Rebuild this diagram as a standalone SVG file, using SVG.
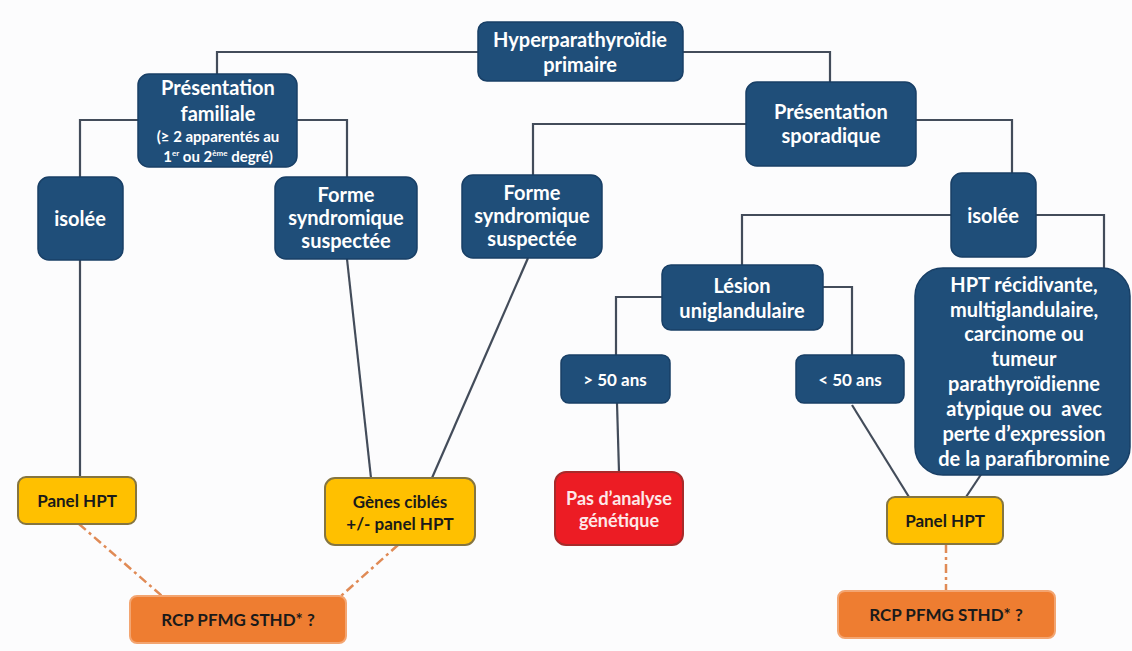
<svg xmlns="http://www.w3.org/2000/svg" width="1132" height="651" viewBox="0 0 1132 651">
<style>
.n{fill:#1f4e79;stroke:#183f66;stroke-width:1.5}
.y{fill:#ffc000;stroke:#857540;stroke-width:2}
.r{fill:#ec1c24;stroke:#a82a2a;stroke-width:2}
.o{fill:#ee7d31;stroke:#f3a571;stroke-width:2}
text{font-family:Lato,"Open Sans","Liberation Sans",sans-serif;font-weight:700;text-anchor:middle}
.w{fill:#ffffff;font-size:20px}
.ws{fill:#ffffff;font-size:15px}
.wm{fill:#ffffff;font-size:17px}
.k{fill:#1a1a1a;font-size:17px}
.c{fill:none;stroke:#434c5a;stroke-width:2.2}
.d{fill:none;stroke:#e08a55;stroke-width:2.5;stroke-dasharray:9 4 3 4}
</style>
<rect width="1132" height="651" fill="#fcfcfd"/>
<g id="connectors">
<polyline class="c" points="478,52 217,52 217,74"/>
<polyline class="c" points="683,52 830,52 830,82"/>
<polyline class="c" points="138,120 80,120 80,177"/>
<polyline class="c" points="297,120 347,120 347,177"/>
<polyline class="c" points="746,124 533,124 533,175"/>
<polyline class="c" points="916,120 1012,120 1012,173"/>
<polyline class="c" points="951,215 742,215 742,265"/>
<polyline class="c" points="1036,215 1104,215 1104,268"/>
<polyline class="c" points="662,297 616,297 616,355"/>
<polyline class="c" points="823,287 852,287 852,355"/>
<line class="c" x1="80" y1="260" x2="80" y2="477"/>
<line class="c" x1="347" y1="259" x2="371" y2="478"/>
<line class="c" x1="528" y1="258" x2="432" y2="478"/>
<line class="c" x1="617" y1="403" x2="619" y2="472"/>
<line class="c" x1="852" y1="405" x2="909" y2="497"/>
<line class="c" x1="982" y1="473" x2="966" y2="497"/>
<line class="d" x1="79" y1="524" x2="162" y2="596"/>
<line class="d" x1="398" y1="545" x2="341" y2="596"/>
<line class="d" x1="946" y1="544" x2="946" y2="591"/>
</g>
<g id="hpt-primaire">
<rect class="n" x="478" y="22" width="205" height="59" rx="9"/>
<text class="w" x="580" y="47">Hyperparathyroïdie</text>
<text class="w" x="580" y="72">primaire</text>
</g>
<g id="familiale">
<rect class="n" x="138" y="74" width="159" height="93" rx="11"/>
<text class="w" x="218" y="95">Présentation</text>
<text class="w" x="218" y="121">familiale</text>
<text class="ws" x="218" y="142">(≥ 2 apparentés au</text>
<text class="ws" x="218" y="162">1<tspan font-size="8" dy="-6">er</tspan><tspan dy="6"> ou 2</tspan><tspan font-size="8" dy="-6">ème</tspan><tspan dy="6"> degré)</tspan></text>
</g>
<g id="sporadique">
<rect class="n" x="746" y="82" width="170" height="84" rx="11"/>
<text class="w" x="831" y="119">Présentation</text>
<text class="w" x="831" y="143">sporadique</text>
</g>
<g id="isolee-fam">
<rect class="n" x="38" y="177" width="85" height="83" rx="11"/>
<text class="w" x="80" y="226">isolée</text>
</g>
<g id="forme-fam">
<rect class="n" x="275" y="177" width="142" height="82" rx="11"/>
<text class="w" x="346" y="202">Forme</text>
<text class="w" x="346" y="225">syndromique</text>
<text class="w" x="346" y="248">suspectée</text>
</g>
<g id="forme-spo">
<rect class="n" x="462" y="175" width="140" height="83" rx="11"/>
<text class="w" x="532" y="200">Forme</text>
<text class="w" x="532" y="223">syndromique</text>
<text class="w" x="532" y="246">suspectée</text>
</g>
<g id="isolee-spo">
<rect class="n" x="951" y="173" width="85" height="84" rx="11"/>
<text class="w" x="993" y="223">isolée</text>
</g>
<g id="lesion">
<rect class="n" x="662" y="265" width="161" height="65" rx="9"/>
<text class="w" x="742" y="293">Lésion</text>
<text class="w" x="742" y="318">uniglandulaire</text>
</g>
<g id="hpt-recid">
<rect class="n" x="915" y="268" width="215" height="207" rx="28"/>
<text class="w" x="1024" y="292">HPT récidivante,</text>
<text class="w" x="1024" y="317">multiglandulaire,</text>
<text class="w" x="1024" y="341">carcinome ou</text>
<text class="w" x="1024" y="366">tumeur</text>
<text class="w" x="1024" y="391">parathyroïdienne</text>
<text class="w" x="1024" y="416" style="white-space:pre">atypique ou  avec</text>
<text class="w" x="1024" y="441">perte d’expression</text>
<text class="w" x="1024" y="466">de la parafibromine</text>
</g>
<g id="plus50">
<rect class="n" x="561" y="355" width="109" height="48" rx="8"/>
<text class="wm" x="615" y="386">&gt; 50 ans</text>
</g>
<g id="moins50">
<rect class="n" x="796" y="355" width="108" height="48" rx="8"/>
<text class="wm" x="850" y="386">&lt; 50 ans</text>
</g>
<g id="pas-analyse">
<rect class="r" x="555" y="472" width="128" height="73" rx="11"/>
<text class="wm" x="619" y="505" style="fill:#fde8e8;font-size:18px">Pas d’analyse</text>
<text class="wm" x="619" y="527" style="fill:#fde8e8;font-size:18px">génétique</text>
</g>
<g id="panel-fam">
<rect class="y" x="18" y="477" width="118" height="47" rx="8"/>
<text class="k" x="77" y="507">Panel HPT</text>
</g>
<g id="genes">
<rect class="y" x="325" y="478" width="150" height="67" rx="10"/>
<text class="k" x="400" y="508">Gènes ciblés</text>
<text class="k" x="400" y="530">+/- panel HPT</text>
</g>
<g id="panel-spo">
<rect class="y" x="887" y="497" width="116" height="47" rx="8"/>
<text class="k" x="945" y="527">Panel HPT</text>
</g>
<g id="rcp-fam">
<rect class="o" x="130" y="596" width="216" height="47" rx="7"/>
<text class="k" x="238" y="626">RCP PFMG STHD* ?</text>
</g>
<g id="rcp-spo">
<rect class="o" x="838" y="591" width="217" height="47" rx="7"/>
<text class="k" x="946" y="621">RCP PFMG STHD* ?</text>
</g>
</svg>
